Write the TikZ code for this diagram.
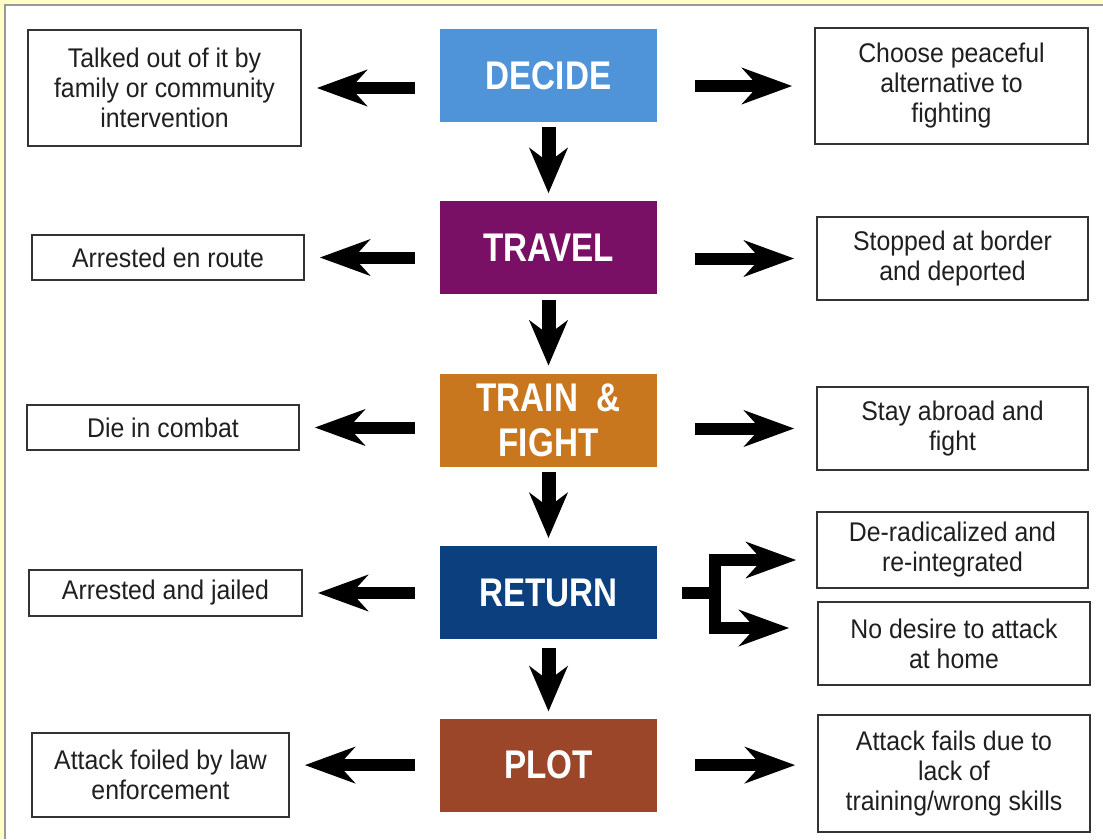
\documentclass[tikz,border=0pt]{standalone}
\usepackage{fontspec}
\setmainfont{Liberation Sans}
\newfontfamily\stagefont[FakeStretch=0.83]{Liberation Sans}
\newfontfamily\boxfont[FakeStretch=0.92]{Liberation Sans}
\usetikzlibrary{calc, positioning, arrows.meta}
\definecolor{decidecol}{HTML}{4F93D8}
\definecolor{travelcol}{HTML}{7A0F66}
\definecolor{traincol}{HTML}{C9771E}
\definecolor{returncol}{HTML}{0B3F7E}
\definecolor{plotcol}{HTML}{9B4529}
\definecolor{paleyellow}{HTML}{FFFFC4}
\tikzset{
    stage/.style={rectangle, minimum width=217pt, minimum height=93pt, inner sep=0pt, text=white, align=center, font=\stagefont\bfseries\fontsize{40}{45}\selectfont},
    outcome/.style={draw=black!80, line width=1.6pt, rectangle, inner sep=0pt, align=center, text=black!88, font=\boxfont\fontsize{27}{30}\selectfont},
    flow/.style={line width=12pt, -{Stealth[length=50pt, width=36pt, inset=16pt]}},
    godown/.style={line width=14pt, -{Stealth[length=45pt, width=38pt, inset=14pt]}},
    toleft/.style={flow, shorten <=25pt, shorten >=15pt},
    toright/.style={flow, shorten <=38pt, shorten >=22pt} }

\begin{document}
\begin{tikzpicture}[x=1pt, y=-1pt, node distance=79pt]
			\useasboundingbox (0,0) rectangle (1103,839);
			\fill[paleyellow] (0,0) rectangle (1103,4);
			\fill[paleyellow] (0,0) rectangle (4,839);
			\draw[black!40, line width=1.5pt] (5,839) -- (5,5) -- (1103,5);
			% ----
			\node[stage, fill=decidecol] (decide) at (548.5,75.5) {DECIDE};
			\node[stage, fill=travelcol, below = of decide] (travel) {TRAVEL};
			\node[stage, fill=traincol, below = of travel] (train) {TRAIN\ \ \&\\FIGHT};
			\node[stage, fill=returncol, below = of train] (return) {RETURN};
			\node[stage, fill=plotcol, below = of return] (plot) {PLOT};
			% ----
			\node[outcome, minimum width=273pt, minimum height=116pt] (talked) at (164.5,88) {Talked out of it by\\family or community\\intervention};
			\node[outcome, minimum width=272pt, minimum height=45pt] (enroute) at (168,257.5) {Arrested en route};
			\node[outcome, minimum width=272pt, minimum height=45pt] (combat) at (163,427.5) {Die in combat};
			\node[outcome, minimum width=273pt, minimum height=46pt] (jailed) at (165.5,593) {Arrested and jailed};
			\node[outcome, minimum width=257pt, minimum height=84pt] (foiled) at (160.5,775) {Attack foiled by law\\enforcement};
			% ----
			\node[outcome, minimum width=273pt, minimum height=116pt] (peaceful) at (951.5,86) {Choose peaceful\\alternative to\\fighting};
			\node[outcome, minimum width=271pt, minimum height=83pt] (stopped) at (952.5,258.5) {Stopped at border\\and deported};
			\node[outcome, minimum width=271pt, minimum height=83pt] (abroad) at (952.5,428.5) {Stay abroad and\\fight};
			\node[outcome, minimum width=271pt, minimum height=76pt] (derad) at (952.5,550) {De-radicalized and\\re-integrated};
			\node[outcome, minimum width=272pt, minimum height=83pt] (nodesire) at (954,643.5) {No desire to attack\\at home};
			\node[outcome, minimum width=272pt, minimum height=117pt] (fails) at (954,773.5) {Attack fails due to\\lack of\\training/wrong skills};
			% ----
			\draw[godown, shorten <=5pt, shorten >=8pt] (decide) -- (travel);
			\draw[godown, shorten <=5pt, shorten >=8pt] (travel) -- (train);
			\draw[godown, shorten <=5pt, shorten >=8pt] (train) -- (return);
			\draw[godown, shorten <=9pt, shorten >=7pt] (return) -- (plot);

			\draw[toleft] (decide.west |- talked) -- (talked.east);
			\draw[toleft] (travel.west |- enroute) -- (enroute.east);
			\draw[toleft] (train.west |- combat) -- (combat.east);
			\draw[toleft] (return.west |- jailed) -- (jailed.east);
			\draw[toleft] (plot.west) -- (plot.west -| foiled.east);

			\draw[toright] (decide.east |- peaceful) -- (peaceful.west);
			\draw[toright] (travel.east |- stopped) -- (stopped.west);
			\draw[toright] (train.east |- abroad) -- (abroad.west);
			\draw[toright] (plot.east) -- (plot.east -| fails.west);

			\coordinate (fork) at ($(return.east)+(58,0)$);
			\draw[line width=12pt, shorten <=25pt] (return.east) -- (fork);
			\draw[flow, shorten >=20pt] (fork) |- ([yshift=-10pt]derad.west);
			\draw[flow, shorten >=28pt] (fork) |- ([yshift=15.5pt]nodesire.west);
		\end{tikzpicture}
\end{document}
